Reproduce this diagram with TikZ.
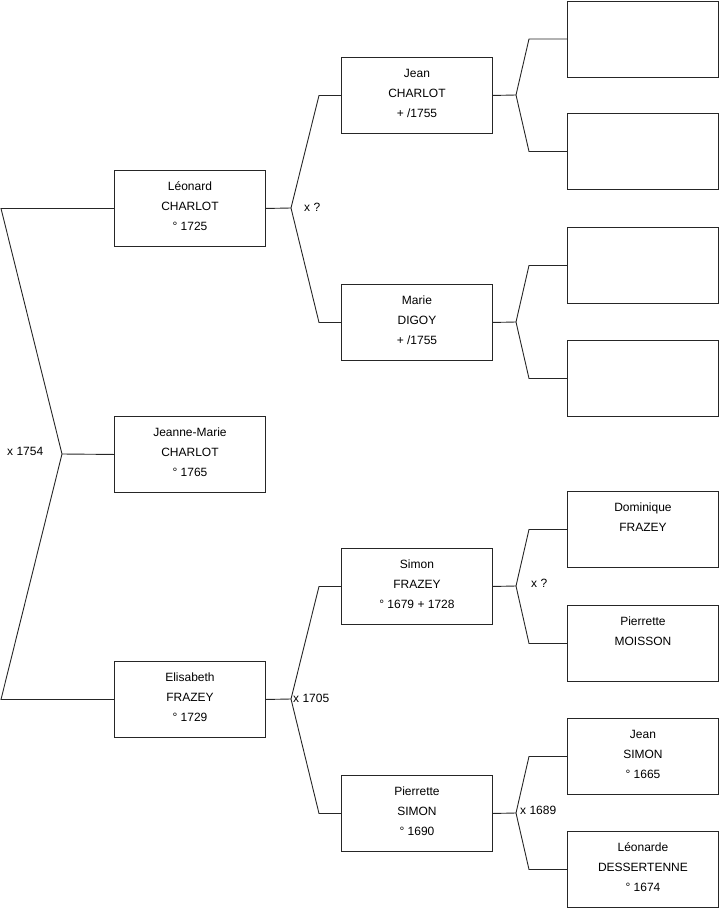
\documentclass[tikz,border=0pt]{standalone}
\usepackage{fontspec}
\setmainfont{Liberation Sans}
\tikzset{
  person/.style={draw=black!85, line width=0.9pt, minimum width=151pt, minimum height=76pt,
    align=center, inner sep=0pt, text height=49pt, text depth=4pt, anchor=north west,
    font=\fontsize{12}{20}\selectfont},
  link/.style={draw=black!85, line width=0.9pt},
  marr/.style={anchor=west, inner sep=0pt, font=\fontsize{12}{14}\selectfont},
}
\begin{document}
\begin{tikzpicture}[x=1pt, y=-1pt]
  \useasboundingbox (0,0) rectangle (719,908);
  % generation 1 and 2
  \node[person] (leonard) at (114,170) {Léonard\\CHARLOT\\° 1725};
  \node[person] (jeanne) at (114,416) {Jeanne-Marie\\CHARLOT\\° 1765};
  \node[person] (elisabeth) at (114,661) {Elisabeth\\FRAZEY\\° 1729};
  % generation 3
  \node[person] (jean) at (341,57) {Jean\\CHARLOT\\+ /1755};
  \node[person] (marie) at (341,284) {Marie\\DIGOY\\+ /1755};
  \node[person] (simon) at (341,548) {Simon\\FRAZEY\\° 1679 + 1728};
  \node[person] (pierrette) at (341,775) {Pierrette\\SIMON\\° 1690};
  % generation 4
  \node[person] (jeanf) at (567,0.5) {};
  \node[person] (jeanm) at (567,113) {};
  \node[person] (marief) at (567,227) {};
  \node[person] (mariem) at (567,340) {};
  \node[person] (dominique) at (567,491) {Dominique\\FRAZEY\\\mbox{}};
  \node[person] (moisson) at (567,605) {Pierrette\\MOISSON\\\mbox{}};
  \node[person] (jeansimon) at (567,718) {Jean\\SIMON\\° 1665};
  \node[person] (leonarde) at (567,831) {Léonarde\\DESSERTENNE\\° 1674};
  % forks
  \coordinate (edge) at (1,0);
  \coordinate (f0) at (62,454);
  \coordinate (f1) at (291,208);
  \coordinate (f2) at (291,699);
  \coordinate (f3) at (516,95);
  \coordinate (f4) at (516,322);
  \coordinate (f5) at (516,586);
  \coordinate (f6) at (516,813);
  \draw[link] (jeanne.west) -- (f0);
  \draw[link] (leonard.west) -- (edge |- leonard.west) -- (f0) -- (edge |- elisabeth.west) -- (elisabeth.west);
  \draw[link] (leonard.east) -- (f1);
  \draw[link] (jean.west) -- ([xshift=-22pt]jean.west) -- (f1) -- ([xshift=-22pt]marie.west) -- (marie.west);
  \draw[link] (elisabeth.east) -- (f2);
  \draw[link] (simon.west) -- ([xshift=-22pt]simon.west) -- (f2) -- ([xshift=-22pt]pierrette.west) -- (pierrette.west);
  \draw[link] (jean.east) -- (f3);
  \draw[link] (jeanf.west) -- ([xshift=-38pt]jeanf.west) -- (f3) -- ([xshift=-38pt]jeanm.west) -- (jeanm.west);
  \draw[link] (marie.east) -- (f4);
  \draw[link] (marief.west) -- ([xshift=-38pt]marief.west) -- (f4) -- ([xshift=-38pt]mariem.west) -- (mariem.west);
  \draw[link] (simon.east) -- (f5);
  \draw[link] (dominique.west) -- ([xshift=-38pt]dominique.west) -- (f5) -- ([xshift=-38pt]moisson.west) -- (moisson.west);
  \draw[link] (pierrette.east) -- (f6);
  \draw[link] (jeansimon.west) -- ([xshift=-38pt]jeansimon.west) -- (f6) -- ([xshift=-38pt]leonarde.west) -- (leonarde.west);
  % marriages
  \node[marr] (m0) at (7,451) {x 1754};
  \node[marr] (m1) at (304,207) {x ?};
  \node[marr] (m2) at (293,698) {x 1705};
  \node[marr] (m3) at (531,583) {x ?};
  \node[marr] (m4) at (520,810) {x 1689};
\end{tikzpicture}
\end{document}
